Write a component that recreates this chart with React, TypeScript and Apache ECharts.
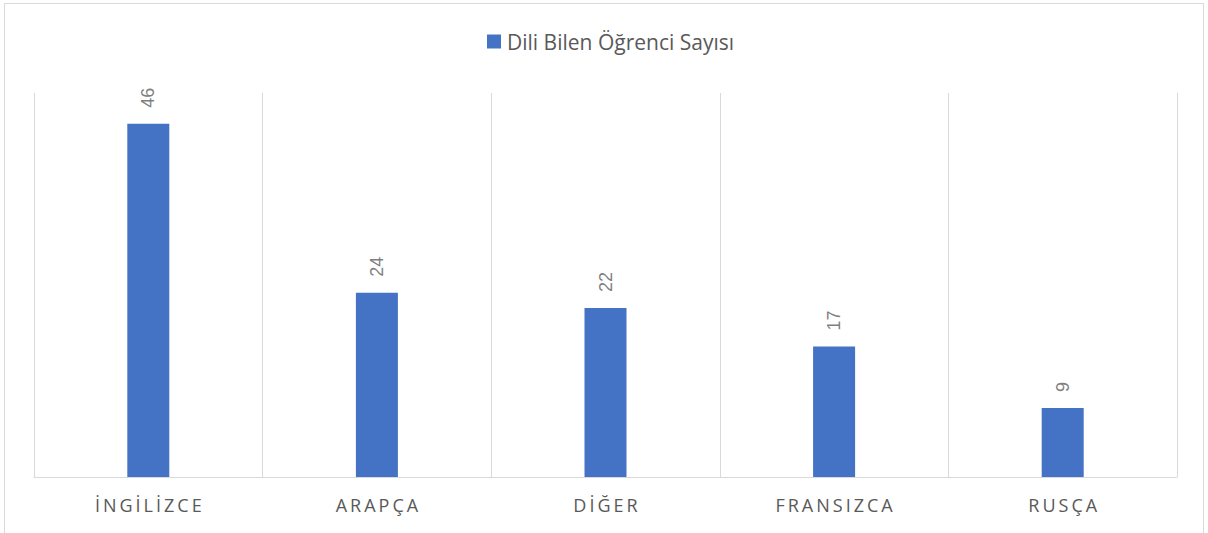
import React, { useEffect, useRef } from "react";
import * as echarts from "echarts";

const categories = ["İNGİLİZCE", "ARAPÇA", "DİĞER", "FRANSIZCA", "RUSÇA"];
const values = [46, 24, 22, 17, 9];
const seriesName = "Dili Bilen Öğrenci Sayısı";

export default function App() {
  const ref = useRef<HTMLDivElement>(null);
  useEffect(() => {
    const chart = echarts.init(ref.current!, null, { renderer: "svg" });
    chart.setOption({
      animation: false,
      backgroundColor: "#ffffff",
      graphic: [
        {
          type: "rect",
          shape: { x: 4.5, y: 3.5, width: 1199, height: 600 },
          style: { fill: "none", stroke: "#d9d9d9", lineWidth: 1 },
          silent: true,
        },
      ],
      legend: {
        top: 26,
        left: 482,
        itemWidth: 14,
        itemHeight: 14,
        itemGap: 10,
        icon: "rect",
        textStyle: { fontFamily: "Open Sans", fontSize: 21, color: "#595959", padding: [0, 0, 0, 1] },
        data: [seriesName],
      },
      grid: { left: 34, right: 31, top: 93, bottom: 56 },
      xAxis: {
        type: "category",
        data: categories,
        axisTick: { show: false },
        axisLine: { lineStyle: { color: "#d9d9d9", width: 1 } },
        splitLine: { show: true, interval: 0, lineStyle: { color: "#d9d9d9", width: 1 } },
        axisLabel: {
          interval: 0,
          margin: 19,
          fontFamily: "Open Sans",
          fontSize: 18,
          color: "#595958",
          padding: [0, 0, 0, 3],
        },
      },
      yAxis: {
        type: "value",
        min: 0,
        max: 50,
        show: false,
        splitLine: { show: false },
      },
      series: [
        {
          name: seriesName,
          type: "bar",
          data: values,
          barWidth: 42,
          itemStyle: { color: "#4472c4" },
          label: {
            show: true,
            position: "top",
            rotate: 90,
            align: "left",
            verticalAlign: "middle",
            distance: 16,
            fontFamily: "Liberation Sans",
            fontSize: 18,
            color: "#7f7f7f",
          },
        },
      ],
    });
    return () => chart.dispose();
  }, []);
  return (
    <>
      <style>{`body{margin:0} text[fill="#595958"]{letter-spacing:3px}`}</style>
      <div ref={ref} style={{ position: "fixed", left: 0, top: 0, width: 1208, height: 533 }} />
    </>
  );
}
